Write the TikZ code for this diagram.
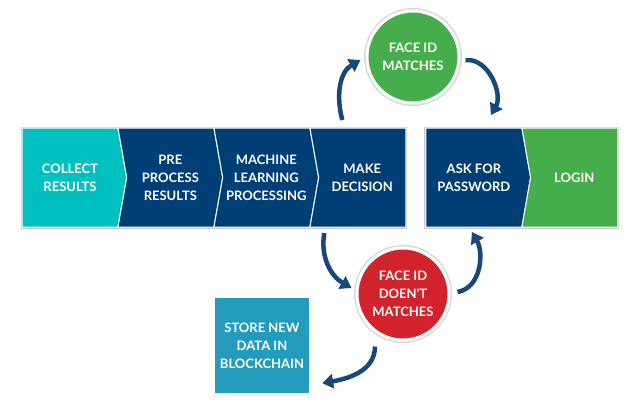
\documentclass[tikz,border=0pt]{standalone}
\usepackage{fontspec}
\setmainfont{Lato}
\usetikzlibrary{shapes.symbols, arrows.meta, positioning, fit, backgrounds}

\definecolor{collectteal}{HTML}{00C1C0}
\definecolor{stepnavy}{HTML}{003F75}
\definecolor{matchgreen}{HTML}{45AD4B}
\definecolor{nomatchred}{HTML}{D2222B}
\definecolor{storeblue}{HTML}{239BBA}
\definecolor{arrownavy}{HTML}{164878}

\begin{document}
\begin{tikzpicture}[
        x=1pt, y=1pt,
        node distance=0pt and 0pt,
        label font/.style={font=\bfseries\fontsize{13}{18}\selectfont, text=white, align=center},
        stepbox/.style={signal, signal pointer angle=160, signal to=nowhere, fill=stepnavy, draw=white, line width=1pt, outer sep=0pt, inner sep=0pt, minimum height=99pt, minimum width=96pt, label font},
        pointed/.style={signal to=east, minimum width=104.7pt},
        notched/.style={signal from=west},
        faceid/.style={circle, draw=white, line width=3pt, minimum size=92pt, inner sep=0pt, preaction={draw=black!15, line width=6pt}, label font},
        storebox/.style={rectangle, fill=storeblue, minimum width=94pt, minimum height=95pt, inner sep=0pt, label font},
        shadeframe/.style={rectangle, fill=black!20, inner sep=1.5pt},
        flow/.style={-{Triangle[length=11pt, width=14pt]}, line width=4.5pt, arrownavy}
    ]
        \useasboundingbox (0,0) rectangle (640,416);

        % Main process chain
        \node[stepbox, pointed, fill=collectteal] (collect) at (70,238.5) {COLLECT\\RESULTS};
        \node[stepbox, pointed, notched, right=of collect] (pre) {PRE\\PROCESS\\RESULTS};
        \node[stepbox, pointed, notched, right=of pre] (learning) {MACHINE\\LEARNING\\PROCESSING};
        \node[stepbox, notched, right=of learning] (decision) {MAKE\\DECISION};

        % Login chain
        \node[stepbox, pointed, right=20pt of decision] (password) {ASK FOR\\PASSWORD};
        \node[stepbox, notched, fill=matchgreen, right=of password] (login) {LOGIN};

        % Face ID outcomes
        \node[faceid, fill=matchgreen] (match) at (413,359) {FACE ID\\MATCHES};
        \node[faceid, fill=nomatchred] (nomatch) at (403,122) {FACE ID\\DOEN\textquotesingle T\\MATCHES};
        \node[storebox] (store) at (262,70.5) {STORE NEW\\DATA IN\\BLOCKCHAIN};

        % White page and grey frames behind the chains
        \begin{scope}[on background layer]
            \fill[white] (0,0) rectangle (640,416);
            \node[shadeframe, fit=(collect)(decision)] (chainframe) {};
            \node[shadeframe, fit=(password)(login)] (loginframe) {};
        \end{scope}

        % Curved arrows
        \draw[flow] ([shift={(-20pt,8pt)}]decision.north) to[out=105, in=210] ([shift={(-5pt,-3pt)}]match.west);
        \draw[flow] ([shift={(5pt,-3pt)}]match.east) to[out=5, in=60] ([shift={(17pt,13pt)}]password.north);
        \draw[flow] ([shift={(-38pt,-6pt)}]decision.south) to[out=260, in=150] ([shift={(-4pt,6pt)}]nomatch.west);
        \draw[flow] ([shift={(7pt,2pt)}]nomatch.east) to[out=10, in=-60] ([shift={(-2pt,-5pt)}]password.south);
        \draw[flow] ([shift={(-28pt,-5pt)}]nomatch.south) to[out=270, in=10] ([shift={(13pt,10pt)}]store.south east);
    \end{tikzpicture}
\end{document}
